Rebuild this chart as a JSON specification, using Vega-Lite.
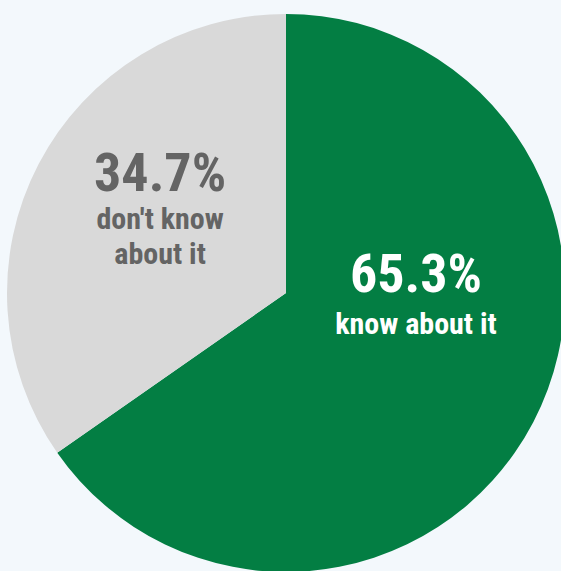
{
  "$schema": "https://vega.github.io/schema/vega-lite/v6.json",
  "width": 550,
  "height": 556,
  "padding": {"left": 11, "top": 15, "right": 0, "bottom": 0},
  "autosize": {"type": "none"},
  "background": "#f3f8fc",
  "config": {"view": {"stroke": null}},
  "data": {
    "values": [
      {"group": "know", "pct": 65.3, "num": "65.3%", "desc": "know about it"},
      {"group": "dont", "pct": 34.7, "num": "34.7%", "desc": "don't know\nabout it"}
    ]
  },
  "encoding": {
    "theta": {"field": "pct", "type": "quantitative", "stack": true},
    "order": {"field": "pct", "type": "quantitative", "sort": "descending"}
  },
  "layer": [
    {
      "mark": {"type": "arc", "outerRadius": 279},
      "encoding": {
        "color": {
          "field": "group",
          "type": "nominal",
          "scale": {"domain": ["know", "dont"], "range": ["#037e43", "#d9d9d9"]},
          "legend": null
        }
      }
    },
    {
      "mark": {"type": "text", "radius": 142, "dy": -36, "font": "Roboto Condensed, DejaVu Sans Condensed, Roboto, sans-serif", "fontWeight": "bold", "fontSize": 54, "color": "#646464", "baseline": "alphabetic", "align": "center"},
      "encoding": {"text": {"condition": {"test": "datum.group == 'dont'", "field": "num", "type": "nominal"}, "value": ""}}
    },
    {
      "mark": {"type": "text", "radius": 142, "dy": 2, "font": "Roboto Condensed, DejaVu Sans Condensed, Roboto, sans-serif", "fontWeight": "bold", "fontSize": 30, "lineBreak": "\n", "lineHeight": 35, "color": "#646464", "baseline": "alphabetic", "align": "center"},
      "encoding": {"text": {"condition": {"test": "datum.group == 'dont'", "field": "desc", "type": "nominal"}, "value": ""}}
    },
    {
      "mark": {"type": "text", "radius": 146.6, "dy": -69, "font": "Roboto Condensed, DejaVu Sans Condensed, Roboto, sans-serif", "fontWeight": "bold", "fontSize": 54, "color": "#ffffff", "baseline": "alphabetic", "align": "center"},
      "encoding": {"text": {"condition": {"test": "datum.group == 'know'", "field": "num", "type": "nominal"}, "value": ""}}
    },
    {
      "mark": {"type": "text", "radius": 146.6, "dy": -27, "font": "Roboto Condensed, DejaVu Sans Condensed, Roboto, sans-serif", "fontWeight": "bold", "fontSize": 30, "color": "#ffffff", "baseline": "alphabetic", "align": "center"},
      "encoding": {"text": {"condition": {"test": "datum.group == 'know'", "field": "desc", "type": "nominal"}, "value": ""}}
    }
  ]
}
